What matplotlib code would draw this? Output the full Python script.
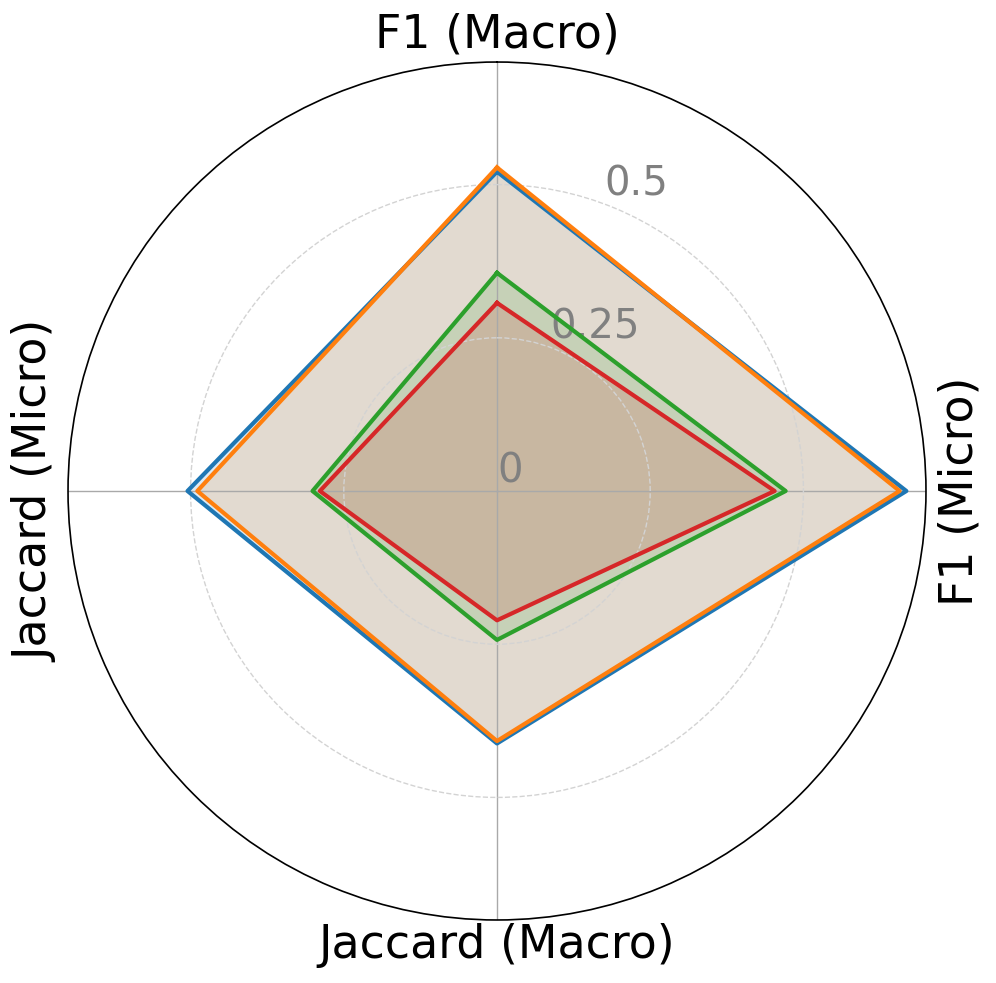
import numpy as np
import matplotlib.pyplot as plt

metrics = ["F1 (Macro)", "F1 (Micro)", "Jaccard (Macro)", "Jaccard (Micro)"]
blue_vals = [0.521, 0.668, 0.412, 0.505]
orange_vals = [0.528, 0.657, 0.408, 0.489]
green_vals = [0.356, 0.471, 0.243, 0.301]
red_vals = [0.307, 0.453, 0.211, 0.289]
series = [blue_vals, orange_vals, green_vals, red_vals]
colors = ["tab:blue", "tab:orange", "tab:green", "tab:red"]
rticks = [0, 0.25, 0.5]
rtick_labels = ["0", "0.25", "0.5"]

angles = np.linspace(0, 2 * np.pi, len(metrics), endpoint=False)
angles_closed = np.concatenate([angles, angles[:1]])

fig = plt.figure(figsize=(9.96, 9.83), dpi=100)
ax = fig.add_axes([0.0683, 0.0641, 0.8614, 0.8728], polar=True)
ax.set_theta_offset(np.pi / 2)
ax.set_theta_direction(-1)

for vals, c in zip(series, colors):
    v = np.array(vals + vals[:1])
    ax.plot(angles_closed, v, color=c, linewidth=3)
    ax.fill(angles_closed, v, color=c, alpha=0.15)

ax.set_ylim(0, 0.7)
ax.set_yticks(rticks)
ax.set_yticklabels(rtick_labels, fontsize=29, color="gray")
ax.set_rlabel_position(20.5)
ax.set_xticks(angles)
ax.set_xticklabels([])
ax.yaxis.grid(True, linestyle="--", color="lightgray", linewidth=1)
ax.xaxis.grid(True, linestyle="-", color="darkgray", linewidth=1)
ax.spines["polar"].set_linewidth(1.2)

# metric names placed by hand so side labels can be rotated
fig.text(497 / 996, 1 - 35 / 983, metrics[0], fontsize=33, ha="center", va="center")
fig.text(960 / 996, 1 - 491 / 983, metrics[1], fontsize=33, ha="center", va="center", rotation=90)
fig.text(497 / 996, 1 - 945 / 983, metrics[2], fontsize=33, ha="center", va="center")
fig.text(36 / 996, 1 - 491 / 983, metrics[3], fontsize=33, ha="center", va="center", rotation=90)

fig.savefig("out.png", dpi=100)
